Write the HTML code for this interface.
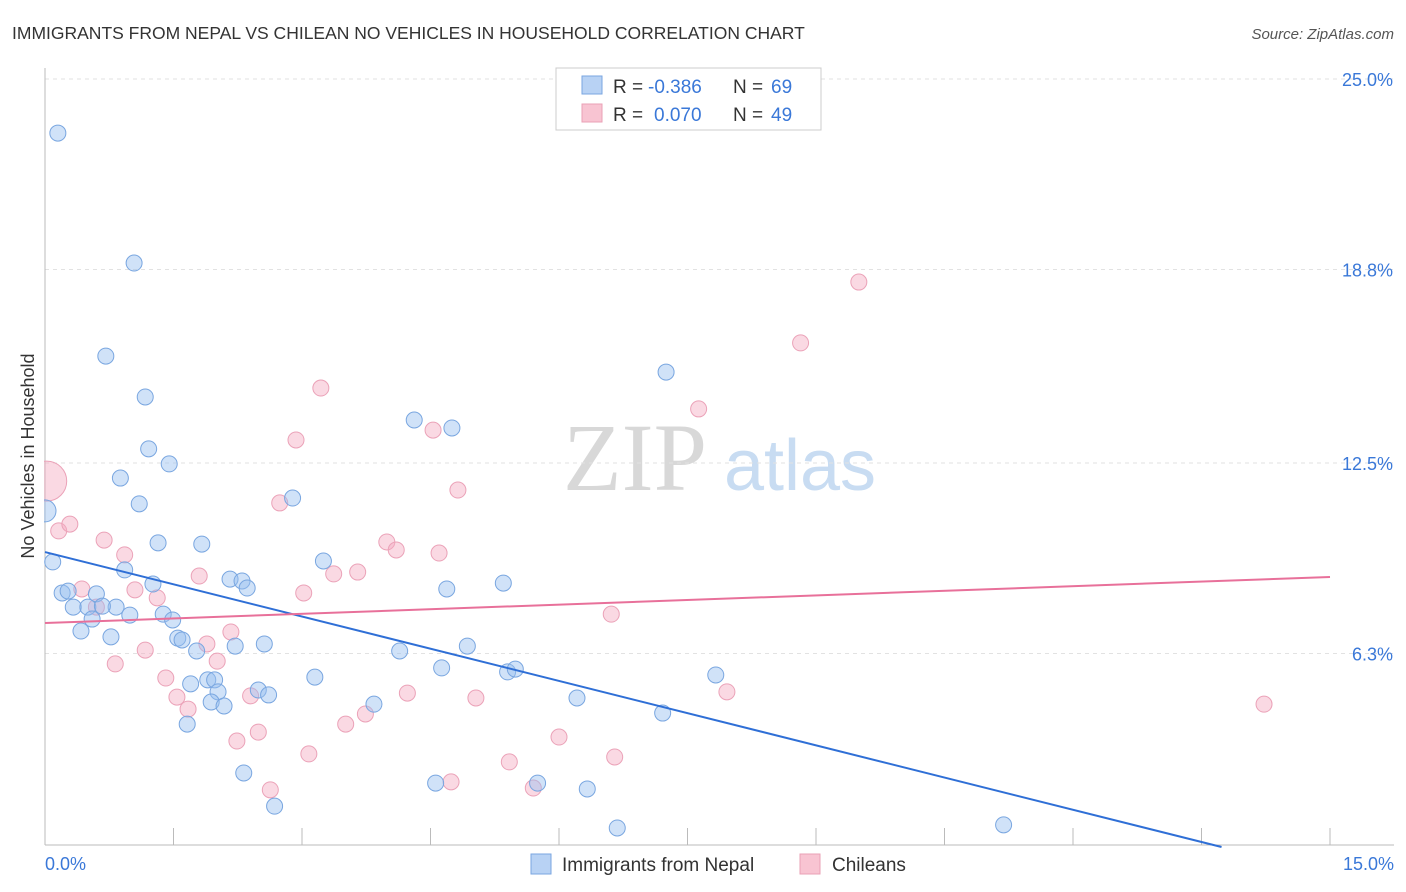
<!DOCTYPE html>
<html><head><meta charset="utf-8"><style>
body{margin:0;background:#fff;font-family:"Liberation Sans",sans-serif;}
svg{display:block}
</style></head><body>
<svg width="1406" height="892" xmlns="http://www.w3.org/2000/svg">
<defs><clipPath id="plotclip"><rect x="44" y="60" width="1360" height="786"/></clipPath></defs>
<text x="12" y="39" font-size="17.5" fill="#333">IMMIGRANTS FROM NEPAL VS CHILEAN NO VEHICLES IN HOUSEHOLD CORRELATION CHART</text>
<text x="1394" y="39" font-size="15" fill="#555" font-style="italic" text-anchor="end">Source: ZipAtlas.com</text>
<g>
<text x="635" y="490" font-size="96" fill="#d8d8d8" font-family="Liberation Serif,serif" text-anchor="middle">ZIP</text>
<text x="800" y="490" font-size="72" fill="#c8dcf2" text-anchor="middle">atlas</text>
</g>
<g id="grid"></g>
<g id="axes"></g>
<g id="pts" clip-path="url(#plotclip)"></g>
<g id="lines"></g>
<text transform="translate(34,456) rotate(-90)" font-size="18" fill="#333" text-anchor="middle">No Vehicles in Household</text>
<g font-size="19">
<rect x="556" y="68" width="265" height="62" fill="#fff" stroke="#ccc"/>
<rect x="582" y="76" width="20" height="18" fill="#b8d2f4" stroke="#7aa6e0"/>
<rect x="582" y="104" width="20" height="18" fill="#f8c4d2" stroke="#eaa0b6"/>
<text x="613" y="93" fill="#333">R =</text>
<text x="648" y="93" fill="#3a78d8">-0.386</text>
<text x="733" y="93" fill="#333">N =</text>
<text x="771" y="93" fill="#3a78d8">69</text>
<text x="613" y="121" fill="#333">R =</text>
<text x="654" y="121" fill="#3a78d8">0.070</text>
<text x="733" y="121" fill="#333">N =</text>
<text x="771" y="121" fill="#3a78d8">49</text>
</g>
<g>
<rect x="531" y="854" width="20" height="20" fill="#b8d2f4" stroke="#7aa6e0"/>
<text x="562" y="871" font-size="19" fill="#333">Immigrants from Nepal</text>
<rect x="800" y="854" width="20" height="20" fill="#f8c4d2" stroke="#eaa0b6"/>
<text x="832" y="871" font-size="19" fill="#333">Chileans</text>
</g>
</svg>
<script>
const yTicks=[25,18.8,12.5,6.3];
const yTickLabels=["25.0%","18.8%","12.5%","6.3%"];
const xTickLabels=["0.0%","15.0%"];
const nepalX=[0.15,1.04,0.71,1.17,7.25,4.31,4.75,1.21,1.45,0.88,2.89,1.10,0,0.09,1.32,1.83,3.25,0.93,2.16,2.30,2.36,1.26,5.35,4.69,0.20,0.27,0.60,0.33,0.50,0.83,0.67,0.55,0.99,1.38,1.49,0.42,0.77,1.55,1.60,1.77,2.22,2.56,4.93,4.14,4.63,5.40,5.49,3.15,7.83,1.70,1.90,1.98,2.02,2.49,2.61,1.94,2.09,3.84,6.21,7.21,1.66,2.32,4.56,5.75,6.33,2.68,6.68,11.19];
const nepalY=[23.24,19.01,15.98,14.65,15.46,13.90,13.64,12.96,12.47,12.01,11.36,11.17,10.94,9.28,9.90,9.86,9.31,9.02,8.72,8.66,8.43,8.56,8.59,8.40,8.27,8.33,8.24,7.81,7.81,7.81,7.84,7.42,7.55,7.58,7.39,7.03,6.84,6.80,6.74,6.38,6.54,6.61,6.54,6.38,5.83,5.70,5.79,5.53,5.60,5.31,5.44,5.44,5.05,5.11,4.95,4.72,4.59,4.65,4.85,4.36,4.00,2.41,2.08,2.08,1.89,1.33,0.62,0.72];
const chileX=[0.02,0.16,0.29,0.69,0.93,0.43,1.05,1.31,1.80,2.93,3.22,2.74,3.02,3.37,3.65,3.99,4.10,4.53,4.82,4.60,6.61,7.63,8.82,9.50,1.17,0.82,1.41,1.54,1.67,1.89,2.01,2.17,2.24,2.49,2.40,2.63,3.08,3.51,3.74,4.23,4.74,5.03,5.42,5.70,6.00,6.65,7.96,14.23,0.60];
const chileY=[11.91,10.29,10.51,9.99,9.51,8.40,8.37,8.11,8.82,13.25,14.94,11.20,8.27,8.89,8.95,9.93,9.67,13.57,11.62,9.57,7.58,14.26,16.41,18.39,6.41,5.96,5.50,4.88,4.49,6.61,6.05,7.00,3.45,3.74,4.92,1.86,3.03,4.00,4.33,5.01,2.12,4.85,2.77,1.92,3.58,2.93,5.05,4.65,7.81];
const nepalTrend=[9.60,-0.699];
const chileTrend=[7.29,0.10];
const NS="http://www.w3.org/2000/svg";
const X=v=>45+v/15*1285, Y=v=>847-v/25*768;
function mk(t,a,p){const e=document.createElementNS(NS,t);for(const k in a)e.setAttribute(k,a[k]);p.appendChild(e);return e;}
const grid=document.getElementById('grid'),axes=document.getElementById('axes');
yTicks.forEach((t,i)=>{
 const l=mk('line',{x1:45,x2:1394,y1:Y(t),y2:Y(t),stroke:'#e2e2e2','stroke-dasharray':'4,4'},grid);
 
 
 const tx=mk('text',{x:1393,y:Y(t)+7,'font-size':18,fill:'#3a78d8','text-anchor':'end'},axes);
 tx.textContent=yTickLabels[i];
 
 
});
mk('line',{x1:45,x2:45,y1:68,y2:845,stroke:'#bbb'},axes);
mk('line',{x1:45,x2:1394,y1:845,y2:845,stroke:'#bbb'},axes);
for(let i=0;i<=10;i++){const x=X(i*1.5);mk('line',{x1:x,x2:x,y1:828,y2:845,stroke:'#bbb'},axes);}
[[0,'start',45],[15,'end',1394]].forEach((d,i)=>{
 const t=mk('text',{x:d[2],y:870,'font-size':18,fill:'#3a78d8','text-anchor':d[1]},axes);
 t.textContent=xTickLabels[i];
 
 
});
const pts=document.getElementById('pts');
chileX.forEach((x,i)=>{
 const c=mk('circle',{cx:X(x),cy:Y(chileY[i]),r:i===0?20:8,fill:'rgba(244,170,192,0.45)',stroke:'#eba2b8','stroke-width':1},pts);
 
 
});
nepalX.forEach((x,i)=>{
 const c=mk('circle',{cx:X(x),cy:Y(nepalY[i]),r:i===12?11:8,fill:'rgba(150,190,240,0.45)',stroke:'#79a6e0','stroke-width':1},pts);
 
 
});
const lines=document.getElementById('lines');
const xEnd=-nepalTrend[0]/nepalTrend[1];
const bl=mk('line',{x1:X(0),y1:Y(nepalTrend[0]),x2:X(xEnd),y2:Y(0),stroke:'#2f6fd6','stroke-width':2},lines);


const pl=mk('line',{x1:X(0),y1:Y(chileTrend[0]),x2:X(15),y2:Y(chileTrend[0]+15*chileTrend[1]),stroke:'#e8709a','stroke-width':2},lines);


</script>
</body></html>
